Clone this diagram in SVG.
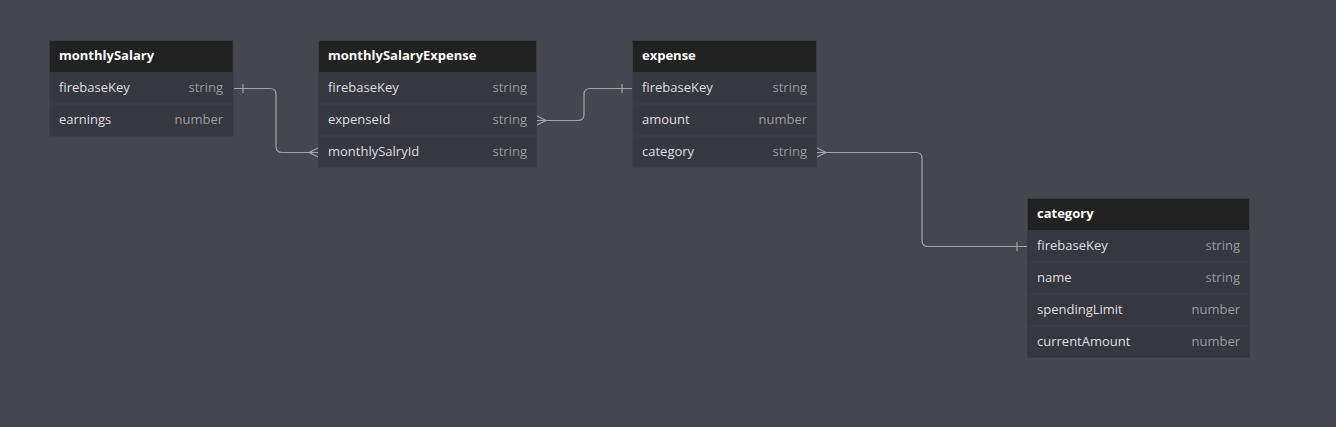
<svg xmlns="http://www.w3.org/2000/svg" width="1336" height="427" viewBox="0 0 1336 427">
<style>
.bg{fill:#46464f}
.hdr{fill:#222222}
.row{fill:#37373f}
.sep{stroke:#3f3f47;stroke-width:1}
.frame{fill:none;stroke:#3c3c44;stroke-width:1}
.title{font-family:"Open Sans","Liberation Sans",sans-serif;font-size:13px;font-weight:bold;fill:#ffffff}
.fname{font-family:"Open Sans","Liberation Sans",sans-serif;font-size:13px;fill:#dedee0}
.ftype{font-family:"Open Sans","Liberation Sans",sans-serif;font-size:13px;fill:#9a9aa0;text-anchor:end}
.conn{fill:none;stroke:#a3a3ab;stroke-width:1.2}
</style>
<rect class="bg" x="0" y="0" width="1336" height="427"/>

<g id="monthlySalary">
<rect class="row" x="49" y="40" width="184" height="96"/>
<rect class="hdr" x="49" y="40" width="184" height="32"/>
<line class="sep" x1="49" y1="104" x2="233" y2="104"/>
<rect class="frame" x="49.5" y="40.5" width="183.5" height="95.5"/>
<text class="title" x="59" y="60">monthlySalary</text>
<text class="fname" x="59" y="92">firebaseKey</text><text class="ftype" x="223" y="92">string</text>
<text class="fname" x="59" y="124">earnings</text><text class="ftype" x="223" y="124">number</text>
</g>

<g id="monthlySalaryExpense">
<rect class="row" x="318" y="40" width="219" height="128"/>
<rect class="hdr" x="318" y="40" width="219" height="32"/>
<line class="sep" x1="318" y1="104" x2="537" y2="104"/>
<line class="sep" x1="318" y1="136" x2="537" y2="136"/>
<rect class="frame" x="318.5" y="40.5" width="218" height="127"/>
<text class="title" x="328" y="60">monthlySalaryExpense</text>
<text class="fname" x="328" y="92">firebaseKey</text><text class="ftype" x="527" y="92">string</text>
<text class="fname" x="328" y="124">expenseId</text><text class="ftype" x="527" y="124">string</text>
<text class="fname" x="328" y="156">monthlySalryId</text><text class="ftype" x="527" y="156">string</text>
</g>

<g id="expense">
<rect class="row" x="632" y="40" width="185" height="128"/>
<rect class="hdr" x="632" y="40" width="185" height="32"/>
<line class="sep" x1="632" y1="104" x2="817" y2="104"/>
<line class="sep" x1="632" y1="136" x2="817" y2="136"/>
<rect class="frame" x="632.5" y="40.5" width="184" height="127"/>
<text class="title" x="642" y="60">expense</text>
<text class="fname" x="642" y="92">firebaseKey</text><text class="ftype" x="807" y="92">string</text>
<text class="fname" x="642" y="124">amount</text><text class="ftype" x="807" y="124">number</text>
<text class="fname" x="642" y="156">category</text><text class="ftype" x="807" y="156">string</text>
</g>

<g id="category">
<rect class="row" x="1027" y="198" width="223" height="160"/>
<rect class="hdr" x="1027" y="198" width="223" height="32"/>
<line class="sep" x1="1027" y1="262" x2="1250" y2="262"/>
<line class="sep" x1="1027" y1="294" x2="1250" y2="294"/>
<line class="sep" x1="1027" y1="326" x2="1250" y2="326"/>
<rect class="frame" x="1027.5" y="198.5" width="222" height="159"/>
<text class="title" x="1037" y="218">category</text>
<text class="fname" x="1037" y="250">firebaseKey</text><text class="ftype" x="1240" y="250">string</text>
<text class="fname" x="1037" y="282">name</text><text class="ftype" x="1240" y="282">string</text>
<text class="fname" x="1037" y="314">spendingLimit</text><text class="ftype" x="1240" y="314">number</text>
<text class="fname" x="1037" y="346">currentAmount</text><text class="ftype" x="1240" y="346">number</text>
</g>

<g id="connectors">
<!-- monthlySalary.firebaseKey -> monthlySalaryExpense.monthlySalryId -->
<path class="conn" d="M234 88.5 H270 Q276 88.5 276 94.5 V146.5 Q276 152.5 282 152.5 H318"/>
<line class="conn" x1="243" y1="84" x2="243" y2="93"/>
<path class="conn" d="M318 148 L309 152.5 L318 157"/>
<!-- monthlySalaryExpense.expenseId -> expense.firebaseKey -->
<path class="conn" d="M537 120.5 H578 Q584 120.5 584 114.5 V94.5 Q584 88.5 590 88.5 H632"/>
<path class="conn" d="M537 116 L546 120.5 L537 125"/>
<line class="conn" x1="622" y1="84" x2="622" y2="93"/>
<!-- expense.category -> category.firebaseKey -->
<path class="conn" d="M817 152.5 H916 Q922 152.5 922 158.5 V240.5 Q922 246.5 928 246.5 H1027"/>
<path class="conn" d="M817 148 L826 152.5 L817 157"/>
<line class="conn" x1="1017" y1="242" x2="1017" y2="251"/>
</g>
</svg>
